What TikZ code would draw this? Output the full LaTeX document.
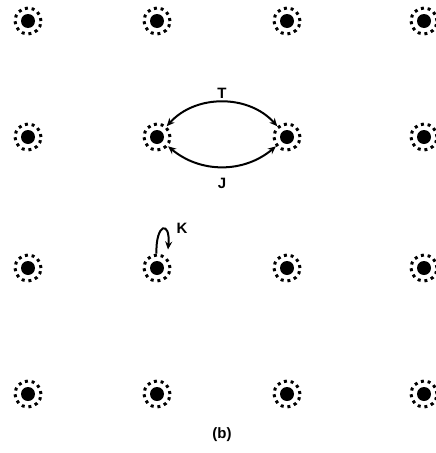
\documentclass[tikz,border=0pt]{standalone}
\usepackage{fontspec}
\setsansfont{Liberation Sans}
\usetikzlibrary{arrows.meta,positioning,calc}

\tikzset{
  site/.style={circle, minimum size=26pt, inner sep=0pt, draw, line width=3pt,
    dash pattern=on 3pt off 3.81pt,
    path picture={\fill (path picture bounding box.center) circle (7pt);}},
  hop/.style={line width=2pt, {Stealth[length=8pt,width=7pt]}-{Stealth[length=8pt,width=7pt]}},
  lbl/.style={font=\sffamily\bfseries\fontsize{15}{17}\selectfont}
}

\begin{document}
\begin{tikzpicture}[x=1pt, y=-1pt, >=Stealth]
        \useasboundingbox (0,0) rectangle (436,453);
        % lattice of sites
        \foreach \r/\y in {1/21, 2/137, 3/268, 4/394}
          \foreach \c/\x in {1/28, 2/157, 3/287, 4/424}
            \node[site] (s-\r-\c) at (\x,\y) {};
        % exchange T and J
        \draw[hop] (s-2-2) to[bend left=48] (s-2-3);
        \draw[hop] (s-2-2) to[bend right=40] (s-2-3);
        \node[lbl] (t) at (222,93) {T};
        \node[lbl] (j) at (222,183) {J};
        % on-site K
        \coordinate[above right=4pt and 11pt of s-3-2.north] (kend);
        \draw[line width=2pt, -{Stealth[length=8pt,width=7pt]}] (s-3-2.92) to[out=92, in=85, distance=30pt] (kend);
        \node[lbl] (k) at (182,228) {K};
        \node[lbl] (cap) at (222,435) {(b)};
      \end{tikzpicture}
\end{document}
